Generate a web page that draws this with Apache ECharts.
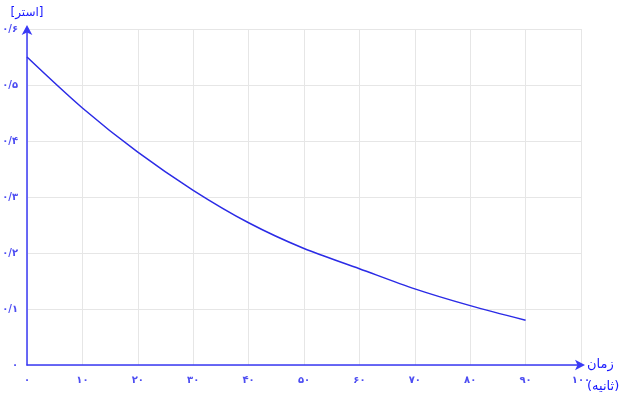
<!DOCTYPE html>
<html><head><meta charset="utf-8">
<script src="https://cdn.jsdelivr.net/npm/echarts@6/dist/echarts.min.js"></script>
<style>html,body{margin:0;padding:0;background:#fff}#c{width:624px;height:399px}</style>
</head><body><div id="c"></div>
<script>
const times = [0, 10, 20, 30, 40, 50, 60, 70, 80, 90];
const currents = [0.550, 0.459, 0.380, 0.312, 0.254, 0.208, 0.172, 0.136, 0.106, 0.080];
const xAxisTitle = 'زمان\n(ثانیه)';
const yAxisTitle = '[استر]';
const xTicks = [0, 10, 20, 30, 40, 50, 60, 70, 80, 90, 100];
const yTicks = [0, 0.1, 0.2, 0.3, 0.4, 0.5, 0.6];

const fa = '۰۱۲۳۴۵۶۷۸۹';
function toFa(v) {
  let s = String(Math.round(v * 1000) / 1000).replace('.', '/');
  return s.replace(/[0-9]/g, d => fa[+d]);
}
const labelColor = '#4d4df2';
const axisColor = '#3a3af5';
const chart = echarts.init(document.getElementById('c'));
chart.setOption({
  animation: false,
  grid: { left: 27, right: 43, top: 29, bottom: 34, containLabel: false, outerBoundsMode: 'none' },
  xAxis: {
    type: 'value', min: xTicks[0], max: xTicks[xTicks.length - 1], interval: 10,
    name: '\n' + xAxisTitle, nameLocation: 'end', nameGap: 6, nameMoveOverlap: false,
    nameTextStyle: { color: '#1a1aff', fontSize: 13, fontFamily: 'DejaVu Sans', align: 'left', verticalAlign: 'middle', lineHeight: 22 },
    axisLine: { show: true, symbol: ['none', 'arrow'], symbolSize: [8, 10], symbolOffset: [0, 4], lineStyle: { color: axisColor, width: 1.5 } },
    axisTick: { show: false },
    axisLabel: { color: labelColor, fontSize: 10, fontWeight: 'bold', fontFamily: 'DejaVu Sans', margin: 10, formatter: toFa },
    splitLine: { show: true, lineStyle: { color: '#e6e6e6', width: 1 } }
  },
  yAxis: {
    type: 'value', min: yTicks[0], max: yTicks[yTicks.length - 1], interval: 0.1,
    name: yAxisTitle, nameLocation: 'end', nameGap: 10, nameMoveOverlap: false,
    nameTextStyle: { color: '#1a1aff', fontSize: 12, fontFamily: 'DejaVu Sans', align: 'center' },
    axisLine: { show: true, symbol: ['none', 'arrow'], symbolSize: [8, 10], symbolOffset: [0, 4], lineStyle: { color: axisColor, width: 1.5 } },
    axisTick: { show: false },
    axisLabel: { color: labelColor, fontSize: 10, fontWeight: 'bold', fontFamily: 'DejaVu Sans', margin: 9, formatter: toFa },
    splitLine: { show: true, lineStyle: { color: '#e6e6e6', width: 1 } }
  },
  series: [{
    type: 'line', data: times.map((t, i) => [t, currents[i]]),
    smooth: 0.3, showSymbol: false, symbol: 'none',
    lineStyle: { color: '#2b2be6', width: 1.5 }
  }]
});
</script></body></html>
